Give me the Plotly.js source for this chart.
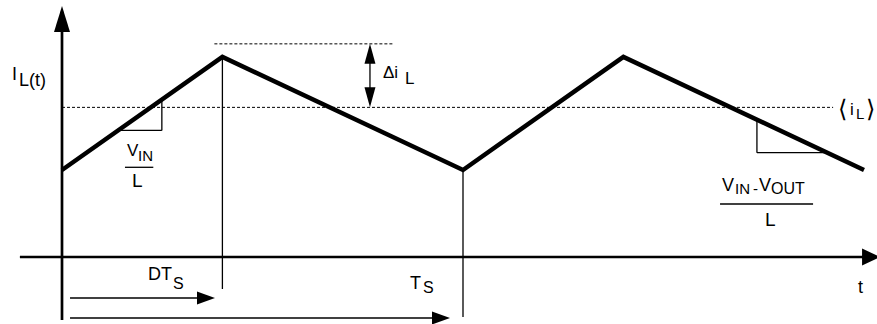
<!DOCTYPE html>
<html>
<head>
<meta charset="utf-8">
<script src="https://cdn.plot.ly/plotly-3.0.1.min.js"></script>
<style>
  html, body { margin: 0; padding: 0; background: #fff; }
  #chart { width: 877px; height: 324px; }
</style>
</head>
<body>
<div id="chart"></div>
<script>
    // inductor current, time in units of T_S, current in arbitrary units
    const waveT = [0, 0.4, 1, 1.4, 2];
    const waveI = [1.0, 2.3, 1.0, 2.3, 1.0];
    const duty = 0.4;          // D
    const iAvg = 1.72;         // <i_L>
    const iRippleTop = 2.45;   // upper dotted line of the ripple marker
    const slopeUp = [0.14, 0.249];     // V_IN/L triangle, t span
    const slopeDown = [1.733, 1.908];  // (V_IN-V_OUT)/L triangle, t span

    const FONT = 'Liberation Sans, Arial, Helvetica, sans-serif';

    // value of the waveform at time t (used to hang the slope triangles on it)
    function waveAt(t) {
        for (let k = 0; k < waveT.length - 1; k++) {
            if (t >= waveT[k] && t <= waveT[k + 1]) {
                const f = (t - waveT[k]) / (waveT[k + 1] - waveT[k]);
                return waveI[k] + f * (waveI[k + 1] - waveI[k]);
            }
        }
        return waveI[waveI.length - 1];
    }

    const shapes = [];
    const annotations = [];

    const addLine = (x0, y0, x1, y1, width, dash) => {
        shapes.push({
            type: 'line', xref: 'x', yref: 'y',
            x0: x0, y0: y0, x1: x1, y1: y1,
            line: { color: '#000', width: width, dash: dash || 'solid' }
        });
    };

    // filled arrow head, tip at (t, i), size in pixels
    const addHead = (t, i, dir, w, len) => {
        const h = w / 2;
        const paths = {
            up: `M0,0 L${-h},${-len} L${h},${-len} Z`,
            down: `M0,0 L${-h},${len} L${h},${len} Z`,
            right: `M0,0 L${-len},${h} L${-len},${-h} Z`
        };
        shapes.push({
            type: 'path', xref: 'x', yref: 'y',
            xsizemode: 'pixel', ysizemode: 'pixel',
            xanchor: t, yanchor: i,
            path: paths[dir],
            fillcolor: '#000',
            line: { width: 0 }
        });
    };

    const addText = (text, t, i, size, xanchor, family) => {
        annotations.push({
            x: t, y: i, xref: 'x', yref: 'y',
            text: text, showarrow: false,
            xanchor: xanchor || 'left', yanchor: 'middle',
            borderpad: 0,
            font: { family: family || FONT, size: size, color: '#000' }
        });
    };

    // 1. axes
    addLine(0, -0.724, 0, 2.82, 2.7);
    addHead(0, 2.885, 'up', 16, 26);
    addLine(-0.105, 0, 2.0, 0, 2.7);
    addHead(2.04, 0, 'right', 17, 18);

    // 2. markers of D*T_S and T_S
    addLine(duty, waveI[1], duty, -0.368, 1.3);
    addLine(1, waveI[2], 1, -0.69, 1.3);
    addLine(0.02, -0.471, duty - 0.03, -0.471, 1.3);
    addHead(duty - 0.0185, -0.471, 'right', 13, 18);
    addLine(0.02, -0.701, 0.95, -0.701, 1.3);
    addHead(0.9676, -0.701, 'right', 13, 18);

    // 3. average and ripple
    addLine(0, iAvg, 1.923, iAvg, 1, '3px,2px');
    addLine(0.38, iRippleTop, 0.825, iRippleTop, 1, '3px,2px');
    addLine(0.768, iAvg + 0.15, 0.768, iRippleTop - 0.15, 1.3);
    addHead(0.768, iRippleTop, 'up', 11, 20);
    addHead(0.768, iAvg, 'down', 11, 20);

    // 4. slope triangles
    const a0 = waveAt(slopeUp[0]);
    addLine(slopeUp[0], a0, slopeUp[1], a0, 1.3);
    addLine(slopeUp[1], a0, slopeUp[1], waveAt(slopeUp[1]), 1.3);
    const b0 = waveAt(slopeDown[1]);
    addLine(slopeDown[0], b0, slopeDown[1], b0, 1.3);
    addLine(slopeDown[0], b0, slopeDown[0], waveAt(slopeDown[0]), 1.3);

    // fraction bars
    addLine(0.157, 1.031, 0.2277, 1.031, 1.3);
    addLine(1.641, 0.609, 1.873, 0.609, 1.3);

    // 5. labels
    addText('I', -0.127, 2.103, 18);
    addText('L(t)', -0.1097, 2.035, 18);
    addText('\u0394i', 0.797, 2.115, 17);
    addText('L', 0.853, 2.050, 17);

    addText('V', 0.160, 1.224, 17);
    addText('IN', 0.188, 1.161, 15);
    addText('L', 0.1895, 0.879, 19, 'center');

    addText('\u27E8', 1.932, 1.700, 24, 'left', 'DejaVu Sans');
    addText('i', 1.962, 1.690, 17);
    addText('L', 1.977, 1.644, 15);
    addText('\u27E9', 2.002, 1.700, 24, 'left', 'DejaVu Sans');

    addText('V', 1.6446, 0.828, 18);
    addText('IN', 1.675, 0.782, 15);
    addText('-', 1.7195, 0.782, 15);
    addText('V', 1.7357, 0.828, 18);
    addText('OUT', 1.7655, 0.782, 16);
    addText('L', 1.7656, 0.4287, 19, 'center');

    addText('DT', 0.213, -0.201, 18);
    addText('S', 0.2743, -0.305, 16);
    addText('T', 0.866, -0.299, 18);
    addText('S', 0.8965, -0.356, 16);
    addText('t', 1.9925, -0.345, 18, 'center');

    const trace = {
        x: waveT, y: waveI,
        type: 'scatter', mode: 'lines',
        line: { color: '#000', width: 4.5 },
        hoverinfo: 'skip'
    };

    const layout = {
        width: 877, height: 324,
        margin: { l: 0, r: 0, t: 0, b: 0 },
        paper_bgcolor: '#fff', plot_bgcolor: '#fff',
        xaxis: { range: [-0.15461, 2.03242], visible: false, fixedrange: true },
        yaxis: { range: [-0.77011, 2.95402], visible: false, fixedrange: true },
        showlegend: false,
        shapes: shapes,
        annotations: annotations
    };

    Plotly.newPlot('chart', [trace], layout, { displayModeBar: false, staticPlot: true });
</script>
</body>
</html>
